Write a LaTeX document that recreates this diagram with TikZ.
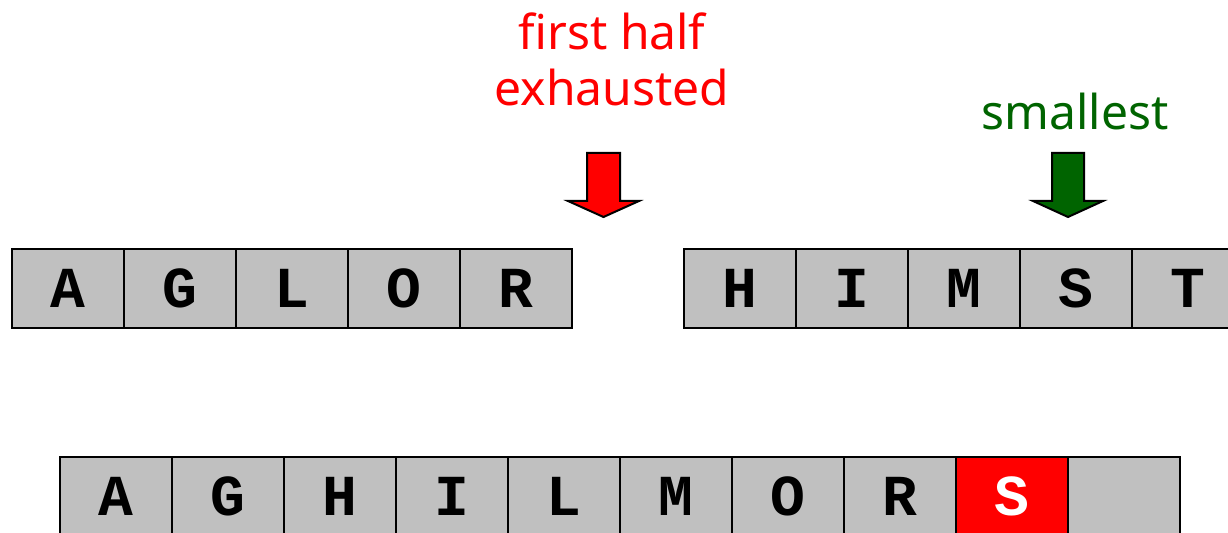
\documentclass[tikz,border=0pt]{standalone}
\usepackage{fontspec}
\newfontfamily\labelfont{Noto Sans}
\newfontfamily\cellfont{Liberation Mono}
\definecolor{cellgray}{RGB}{192,192,192}
\definecolor{arrowred}{RGB}{255,0,0}
\definecolor{arrowgreen}{RGB}{0,100,0}
\tikzset{
  cell/.style={draw=black, line width=1.1pt, fill=cellgray, minimum width=56pt, minimum height=39.5pt, inner sep=0pt, font=\cellfont\bfseries\fontsize{29}{29}\selectfont},
  hicell/.style={cell, fill=arrowred, text=white},
  lbl/.style={font=\labelfont\fontsize{24}{28}\selectfont, anchor=base, inner sep=0pt},
  bigarrow/.style={draw=black, line width=1pt, line join=miter}
}
\begin{document}
\begin{tikzpicture}[x=0.5pt,y=-0.5pt]
\useasboundingbox (0,0) rectangle (1228,533);
\clip (0,0) rectangle (1228,533);
% top-left half
\foreach \l [count=\i from 0] in {A,G,L,O,R}
  \node[cell] (t\i) at ({68+112*\i},288.5) {\l};
% top-right half
\foreach \l [count=\i from 0] in {H,I,M,S,T}
  \node[cell] (u\i) at ({740+112*\i},288.5) {\l};
% merged result
\foreach \l [count=\i from 0] in {A,G,H,I,L,M,O,R}
  \node[cell] (b\i) at ({116+112*\i},496.5) {\l};
\node[hicell] (b8) at ({116+112*8},496.5) {S};
\node[cell] (b9) at ({116+112*9},496.5) {};
% labels
\node[lbl, text=arrowred] (l1) at (612,50) {first half};
\node[lbl, text=arrowred] (l2) at (612,106) {exhausted};
\node[lbl, text=arrowgreen] (l3) at (1075,130) {smallest};
% arrows
\draw[bigarrow, fill=arrowred] (587,153) -- (620,153) -- (620,201) -- (639,201) -- (603.5,217) -- (568,201) -- (587,201) -- cycle;
\draw[bigarrow, fill=arrowgreen] (1052,153) -- (1084,153) -- (1084,201) -- (1103,201) -- (1068,217) -- (1033,201) -- (1052,201) -- cycle;
\end{tikzpicture}
\end{document}
